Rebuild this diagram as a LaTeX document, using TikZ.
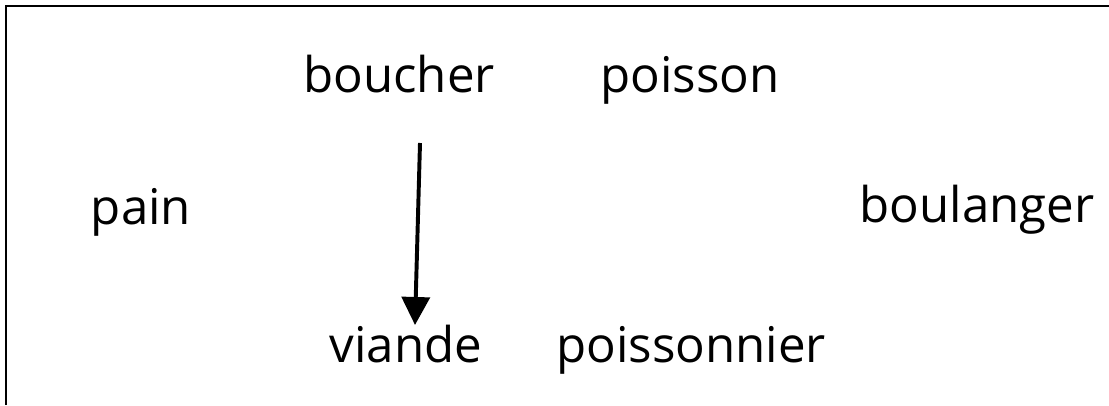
\documentclass[tikz,border=0pt]{standalone}
\usepackage{fontspec}
\setmainfont{Open Sans}
\usetikzlibrary{arrows.meta}

\begin{document}
\begin{tikzpicture}[every node/.style={font=\fontsize{35}{40}\selectfont, inner sep=0pt, anchor=base}]

  \def\w{27.725}
  \def\h{10.125}

  \useasboundingbox (0,0) rectangle (\w,\h);

  % frame: only top and left edges
  \draw[line width=1.8pt] (0.15,0) -- (0.15,\h-0.15) -- (\w,\h-0.15);

  \node (boucher) at (9.975,7.8) {boucher};
  \node (poisson) at (17.25,7.8) {poisson};
  \node (pain) at (3.525,4.5) {pain};
  \node (boulanger) at (24.425,4.55) {boulanger};
  \node (viande) at (10.15,1.075) {viande};
  \node (poissonnier) at (17.275,1.075) {poissonnier};

  \draw[line width=2.8pt, -{Triangle[width=0.7cm,length=0.7cm]}]
    ([xshift=0.525cm,yshift=-1.25cm]boucher.base) -- ([xshift=0.225cm,yshift=0.925cm]viande.base);

\end{tikzpicture}
\end{document}
